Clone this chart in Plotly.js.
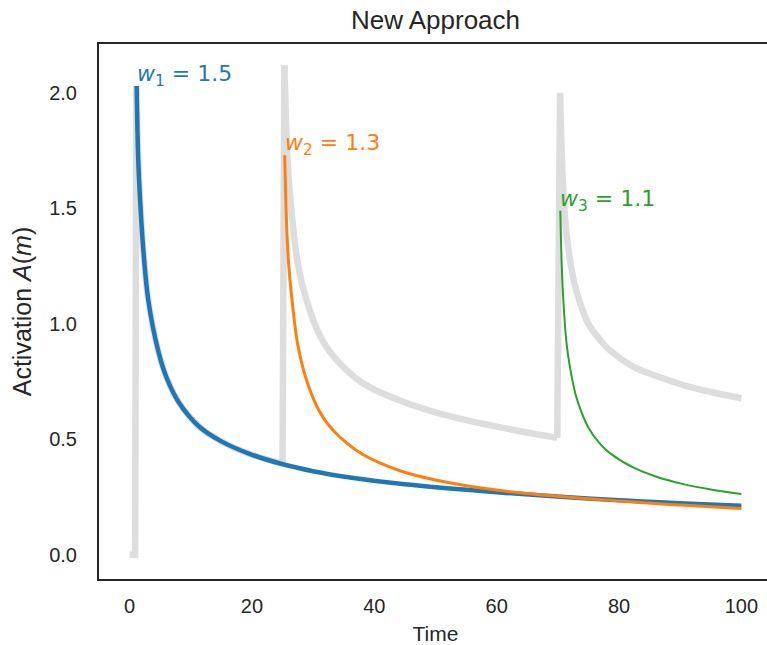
<!DOCTYPE html>
<html>
<head>
<meta charset="utf-8">
<script src="https://cdn.plot.ly/plotly-3.0.1.min.js"></script>
<style>
html, body { margin: 0; padding: 0; overflow: hidden; background: #fff; }
#chart { width: 775px; height: 645px; }
</style>
</head>
<body>
<div id="chart"></div>
<script>
// ---- Data ----
// Blue: w1 = 1.5
const blueT = [1.15, 1.4, 1.72, 2.25, 3.07, 4.66, 6, 8, 11.5, 15, 19.7, 24.9, 30, 36, 45, 60.5, 80, 100];
const blueV = [2.03, 1.72, 1.535, 1.318, 1.10, 0.885, 0.77, 0.662, 0.552, 0.491, 0.436, 0.393, 0.362, 0.335, 0.305, 0.27, 0.236, 0.212];

// Orange: w2 = 1.3
const orangeT = [25.35, 25.7, 26.0, 26.5, 27.5, 28.95, 31, 33.3, 38, 44.2, 50, 60, 70, 80, 90, 100];
const orangeV = [1.73, 1.405, 1.26, 1.116, 0.908, 0.754, 0.623, 0.538, 0.436, 0.364, 0.324, 0.28, 0.253, 0.233, 0.215, 0.200];

// Green: w3 = 1.1
const greenT = [70.4, 70.6, 70.9, 71.5, 72.5, 73.1, 75, 76.9, 78.5, 82.3, 86, 90.5, 95, 100];
const greenV = [1.49, 1.28, 1.10, 0.897, 0.74, 0.675, 0.55, 0.48, 0.44, 0.378, 0.339, 0.306, 0.283, 0.263];

// Gray (total activation), split into rises and decays
const grayRise1T = [0, 0.9, 1.1];
const grayRise1V = [0, 0, 2.03];
const grayDecay1T = [1.1, 1.4, 1.72, 2.25, 3.07, 4.66, 6, 8, 11.5, 15, 19.7, 25.0];
const grayDecay1V = [2.03, 1.72, 1.535, 1.318, 1.10, 0.885, 0.77, 0.662, 0.552, 0.491, 0.436, 0.395];
const grayRise2T = [25.0, 25.3];
const grayRise2V = [0.395, 2.12];
const grayDecay2T = [25.3, 25.7, 26.0, 26.5, 27.5, 28.95, 31, 33.3, 38, 44.2, 50, 60, 69.9];
const grayDecay2V = [2.12, 1.78, 1.63, 1.48, 1.26, 1.10, 0.955, 0.86, 0.745, 0.668, 0.617, 0.555, 0.506];
const grayRise3T = [69.9, 70.35];
const grayRise3V = [0.506, 2.0];
const grayDecay3T = [70.35, 70.6, 70.9, 71.5, 72.5, 73.1, 75, 76.9, 78.5, 82.3, 86, 90.5, 95, 100];
const grayDecay3V = [2.0, 1.76, 1.57, 1.37, 1.20, 1.135, 1.0, 0.93, 0.885, 0.815, 0.775, 0.735, 0.705, 0.678];

// Labels
const labelText = ['<i>w</i><sub>1</sub> = 1.5', '<i>w</i><sub>2</sub> = 1.3', '<i>w</i><sub>3</sub> = 1.1'];
const xTicks = [0, 20, 40, 60, 80, 100];
const yTicks = [0, 0.5, 1.0, 1.5, 2.0];

// ---- Styles ----
const GRAY = '#dddddd', BLUE = '#1f77b4', ORANGE = '#ff7f0e', GREEN = '#2ca02c';
const TXT = '#262626';

function tr(x, y, color, width, shape) {
  return { x: x, y: y, type: 'scatter', mode: 'lines', hoverinfo: 'skip', showlegend: false,
    line: { color: color, width: width, shape: shape || 'linear', smoothing: 1 } };
}

const traces = [
  tr(grayRise1T, grayRise1V, GRAY, 6.5),
  tr(grayDecay1T, grayDecay1V, GRAY, 6.5, 'spline'),
  tr(grayRise2T, grayRise2V, GRAY, 6.5),
  tr(grayDecay2T, grayDecay2V, GRAY, 6.5, 'spline'),
  tr(grayRise3T, grayRise3V, GRAY, 6.5),
  tr(grayDecay3T, grayDecay3V, GRAY, 6.5, 'spline'),
  tr(blueT, blueV, BLUE, 4.5, 'spline'),
  tr(orangeT, orangeV, ORANGE, 3, 'spline'),
  tr(greenT, greenV, GREEN, 2, 'spline')
];

const starts = [[blueT[0], blueV[0], BLUE], [orangeT[0], orangeV[0], ORANGE], [greenT[0], greenV[0], GREEN]];
const annotations = starts.map((s, i) => ({
  x: s[0], y: s[1], xref: 'x', yref: 'y', text: labelText[i], showarrow: false,
  xanchor: 'left', yanchor: 'bottom', yshift: -6, xshift: -2,
  font: { family: 'DejaVu Sans', size: 22, color: s[2] }
}));

const layout = {
  width: 775, height: 645,
  margin: { l: 99, r: 3, t: 44, b: 66 },
  paper_bgcolor: '#fff', plot_bgcolor: '#fff',
  font: { family: 'Liberation Sans, Arial, sans-serif', color: TXT },
  title: { text: 'New Approach', font: { size: 26, color: TXT, family: 'Liberation Sans, Arial, sans-serif' },
           x: 0.5, xref: 'paper', y: 1 - 20 / 645, yref: 'container', yanchor: 'middle' },
  xaxis: {
    range: [-5, 105], tickvals: xTicks, ticks: '', showgrid: false, zeroline: false,
    showline: true, linecolor: TXT, linewidth: 2, mirror: true,
    tickfont: { size: 20, color: TXT }, ticklabelstandoff: 8,
    title: { text: 'Time', font: { size: 21, color: TXT }, standoff: 18 }
  },
  yaxis: {
    range: [-0.105, 2.212], tickvals: yTicks, tickformat: '.1f', ticks: '', showgrid: false, zeroline: false,
    showline: true, linecolor: TXT, linewidth: 2, mirror: true,
    tickfont: { size: 20, color: TXT }, ticklabelstandoff: 16,
    title: { text: 'Activation <i>A</i>(<i>m</i>)', font: { size: 25, color: TXT }, standoff: 10 }
  },
  annotations: annotations
};

Plotly.newPlot('chart', traces, layout, { displayModeBar: false, staticPlot: true });
</script>
</body>
</html>
